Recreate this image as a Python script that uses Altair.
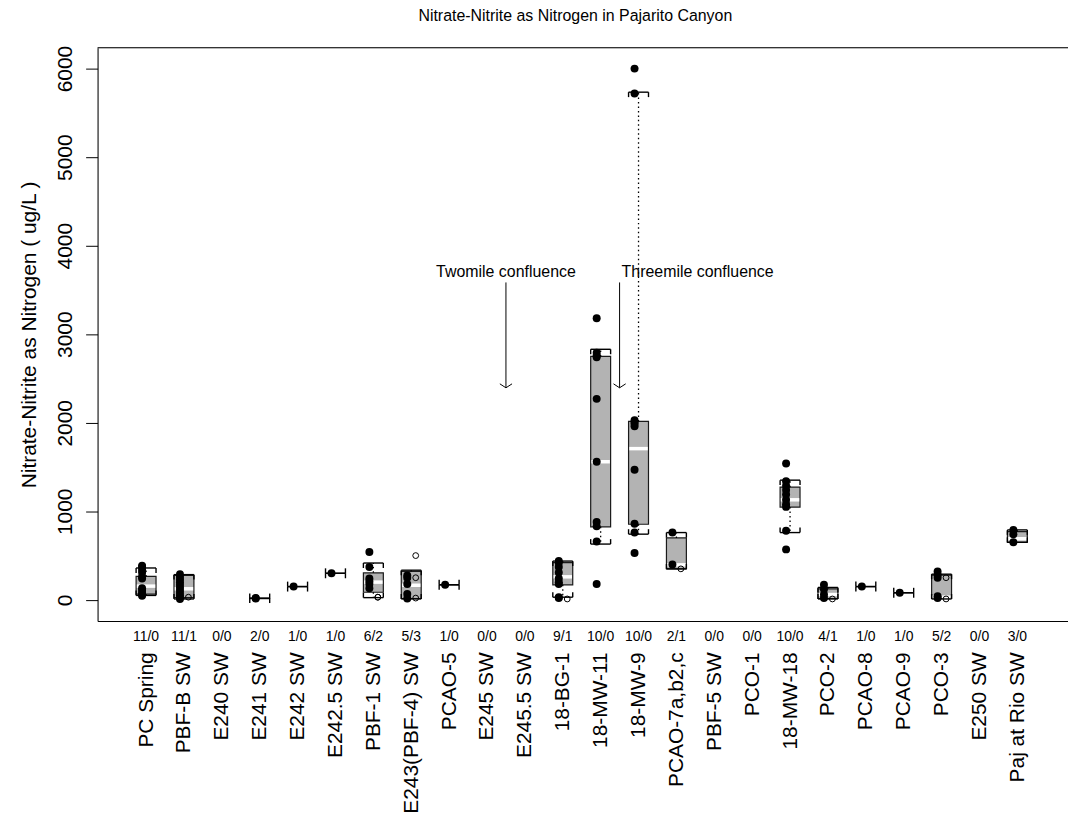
import json
import altair as alt
import pandas as pd

# ---------------- data ----------------
names = ["PC Spring", "PBF-B SW", "E240 SW", "E241 SW", "E242 SW", "E242.5 SW",
         "PBF-1 SW", "E243(PBF-4) SW", "PCAO-5", "E245 SW", "E245.5 SW", "18-BG-1",
         "18-MW-11", "18-MW-9", "PCAO-7a,b2,c", "PBF-5 SW", "PCO-1", "18-MW-18",
         "PCO-2", "PCAO-8", "PCAO-9", "PCO-3", "E250 SW", "Paj at Rio SW"]
counts = ["11/0", "11/1", "0/0", "2/0", "1/0", "1/0", "6/2", "5/3", "1/0", "0/0",
          "0/0", "9/1", "10/0", "10/0", "2/1", "0/0", "0/0", "10/0", "4/1", "1/0",
          "1/0", "5/2", "0/0", "3/0"]
positions = list(range(1, 25))

detects = [
    [385, 370, 340, 310, 260, 240, 130, 110, 80, 60, 45],
    [290, 260, 230, 200, 170, 140, 110, 80, 50, 30, 10],
    [],
    [20, 15],
    [150],
    [300],
    [540, 370, 240, 210, 180, 130],
    [275, 250, 180, 65, 15],
    [170],
    [],
    [],
    [440, 420, 370, 310, 240, 200, 180, 30, 20],
    [3180, 2790, 2760, 2740, 2270, 1560, 880, 830, 660, 180],
    [6000, 5720, 2030, 2010, 1990, 1960, 1470, 860, 760, 530],
    [760, 400],
    [],
    [],
    [1540, 1340, 1290, 1240, 1190, 1130, 1080, 1050, 780, 570],
    [170, 120, 60, 20],
    [150],
    [80],
    [320, 280, 250, 40, 20],
    [],
    [790, 740, 650],
]
nondetects = [
    [], [30], [], [], [], [], [30, 30], [500, 250, 20], [], [], [], [10],
    [], [], [350], [], [], [], [10], [], [], [250, 10], [], [],
]

whisk_hi = [360, 285, None, 20, 150, 300, 416, 335, 170, None, None, 438,
            2830, 5734, 760, None, None, 1352, 140, 150, 80, 290, None, 790]
q3 = [265, 275, None, 20, 150, 300, 305, 320, 170, None, None, 420,
      2750, 2015, 700, None, None, 1273, 125, 150, 80, 280, None, 770]
median = [155, 125, None, 18, 150, 300, 200, 165, 170, None, None, 260,
          1560, 1708, 395, None, None, 1130, 60, 150, 80, 30, None, 690]
q1 = [65, 25, None, 15, 150, 300, 86, 15, 170, None, None, 170,
      825, 854, 350, None, None, 1048, 15, 150, 80, 20, None, 650]
whisk_lo = [50, 10, None, 15, 150, 300, 25, 10, 170, None, None, 30,
            630, 742, 350, None, None, 760, 10, 150, 80, 10, None, 650]

annot_text = ["Twomile confluence", "Threemile confluence"]
annot_x = [10.5, 13.5]
annot_text_y = [3700, 3700]
arrow_top = [3585, 3585]
arrow_tip = [2395, 2395]

title = "Nitrate-Nitrite as Nitrogen in Pajarito Canyon"
ytitle = "Nitrate-Nitrite as Nitrogen ( ug/L )"
yticks = [0, 1000, 2000, 3000, 4000, 5000, 6000]

# ---------------- layout / style ----------------
W, H = 975, 576
XD = [-0.28, 25.337]
YD = [-239, 6236]
HALF = 0.263          # half box width in position units
TICK = 56             # bracket tick length in data units
DOT_OFF = -0.105
ND_OFF = 0.118
FONT = "Liberation Sans"

# ---------------- tables ----------------
pts, nds, boxes, brackets, bticks, whisk = [], [], [], [], [], []
for i, p in enumerate(positions):
    for v in detects[i]:
        pts.append({"px": p + DOT_OFF, "v": v})
    for v in nondetects[i]:
        nds.append({"px": p + ND_OFF, "v": v})
    if whisk_hi[i] is None:
        continue
    x1, x2 = p - HALF, p + HALF
    n = len(detects[i]) + len(nondetects[i])
    if n >= 3:
        boxes.append({"x1": x1, "x2": x2, "q1": q1[i], "q3": q3[i],
                      "m1": x1 + 0.02, "m2": x2 - 0.02, "med": median[i]})
        whisk.append({"px": p, "a": q3[i], "b": whisk_hi[i]})
        whisk.append({"px": p, "a": q1[i], "b": whisk_lo[i]})
    brackets.append({"x1": x1, "x2": x2, "v": whisk_hi[i]})
    brackets.append({"x1": x1, "x2": x2, "v": whisk_lo[i]})
    for xx in (x1, x2):
        bticks.append({"px": xx, "a": whisk_hi[i], "b": whisk_hi[i] - TICK})
        bticks.append({"px": xx, "a": whisk_lo[i], "b": whisk_lo[i] + TICK})

df_pts = pd.DataFrame(pts)
df_nds = pd.DataFrame(nds)
df_box = pd.DataFrame(boxes)
df_br = pd.DataFrame(brackets)
df_bt = pd.DataFrame(bticks)
df_wh = pd.DataFrame(whisk)
df_cnt = pd.DataFrame({"px": positions, "c": counts})
df_ann = pd.DataFrame({"px": annot_x, "t": annot_text, "ty": annot_text_y,
                       "a": arrow_top, "b": arrow_tip})
df_one = pd.DataFrame({"k": [0]})
df_title = pd.DataFrame({"t": [title]})

xs = alt.Scale(domain=XD, nice=False, zero=False)
ys = alt.Scale(domain=YD, nice=False, zero=False)

label_expr = json.dumps(names) + "[datum.value - 1]"
xaxis = alt.Axis(values=positions, labelExpr=label_expr, labelAngle=-90,
                 labelAlign="right", labelBaseline="middle", labelFontSize=21,
                 labelFont=FONT, labelColor="black", ticks=False, tickSize=0,
                 domain=True, domainColor="black", domainWidth=1,
                 labelPadding=31, grid=False, title=None, labelOverlap=False,
                 labelFlush=False, labelBound=False)
yaxis = alt.Axis(values=yticks, format="d", labelAngle=-90, labelAlign="center",
                 labelBaseline="middle", labelFontSize=21, labelFont=FONT,
                 labelColor="black", tickSize=12, tickColor="black", tickWidth=1,
                 domain=True, domainColor="black", domainWidth=1, labelPadding=20,
                 grid=False, title=ytitle, titleFont=FONT, titleFontSize=21,
                 titleFontWeight="normal", titleColor="black", titleAngle=270,
                 titleAlign="center", titleBaseline="middle", titleX=-68,
                 titleY=H / 2, labelOverlap=False, labelFlush=False)


def X(f):
    return alt.X(f, type="quantitative", scale=xs, axis=xaxis)


def Y(f):
    return alt.Y(f, type="quantitative", scale=ys, axis=yaxis)


box_layer = alt.Chart(df_box).mark_rect(fill="#b3b3b3", stroke="#1a1a1a",
                                        strokeWidth=1.2).encode(
    x=X("x1"), x2="x2", y=Y("q1"), y2="q3")
med_layer = alt.Chart(df_box).mark_rule(color="white", strokeWidth=3.5).encode(
    x=X("m1"), x2="m2", y=Y("med"))
wh_layer = alt.Chart(df_wh).mark_rule(color="black", strokeWidth=1.3,
                                      strokeDash=[1.5, 3]).encode(
    x=X("px"), y=Y("a"), y2="b")
br_layer = alt.Chart(df_br).mark_rule(color="black", strokeWidth=1.4).encode(
    x=X("x1"), x2="x2", y=Y("v"))
bt_layer = alt.Chart(df_bt).mark_rule(color="black", strokeWidth=1.4).encode(
    x=X("px"), y=Y("a"), y2="b")
dot_layer = alt.Chart(df_pts).mark_circle(size=64, color="black", opacity=1).encode(
    x=X("px"), y=Y("v"))
nd_layer = alt.Chart(df_nds).mark_point(shape="circle", filled=False, size=34,
                                        color="black", strokeWidth=1,
                                        opacity=1).encode(
    x=X("px"), y=Y("v"))
cnt_layer = alt.Chart(df_cnt).mark_text(font=FONT, fontSize=14, color="black",
                                        baseline="middle", align="center").encode(
    x=X("px"), y=alt.value(H + 16), text="c:N")
arrow_line = alt.Chart(df_ann).mark_rule(color="black", strokeWidth=1).encode(
    x=X("px"), y=Y("a"), y2="b")
arrow_head = alt.Chart(df_ann).mark_point(shape="M-1,-0.65L0,0L1,-0.65",
                                          filled=False, size=150, color="black",
                                          strokeWidth=1, opacity=1).encode(
    x=X("px"), y=Y("b"))
ann1 = alt.Chart(df_ann.iloc[[0]]).mark_text(font=FONT, fontSize=16, color="black",
                                             align="center", baseline="middle").encode(
    x=X("px"), y=Y("ty"), text="t:N")
ann2 = alt.Chart(df_ann.iloc[[1]]).mark_text(font=FONT, fontSize=16, color="black",
                                             align="left", baseline="middle",
                                             dx=2).encode(
    x=X("px"), y=Y("ty"), text="t:N")
top_line = alt.Chart(df_one).mark_rule(color="black", strokeWidth=1).encode(
    x=alt.value(0), x2=alt.value(W), y=alt.value(0))
title_layer = alt.Chart(df_title).mark_text(font=FONT, fontSize=16, color="black",
                                            align="center", baseline="middle").encode(
    x=alt.value(480), y=alt.value(-32), text="t:N")

chart = alt.layer(
    box_layer, med_layer, wh_layer, br_layer, bt_layer, arrow_line, arrow_head,
    ann1, ann2, nd_layer, dot_layer, cnt_layer, top_line, title_layer
).properties(
    width=W, height=H,
    autosize=alt.AutoSizeParams(type="none"),
    padding={"left": 90, "top": 38, "right": 0, "bottom": 194},
).configure_view(stroke=None).configure(background="white")

chart.save("out.html", embed_options={"renderer": "svg", "actions": False})
